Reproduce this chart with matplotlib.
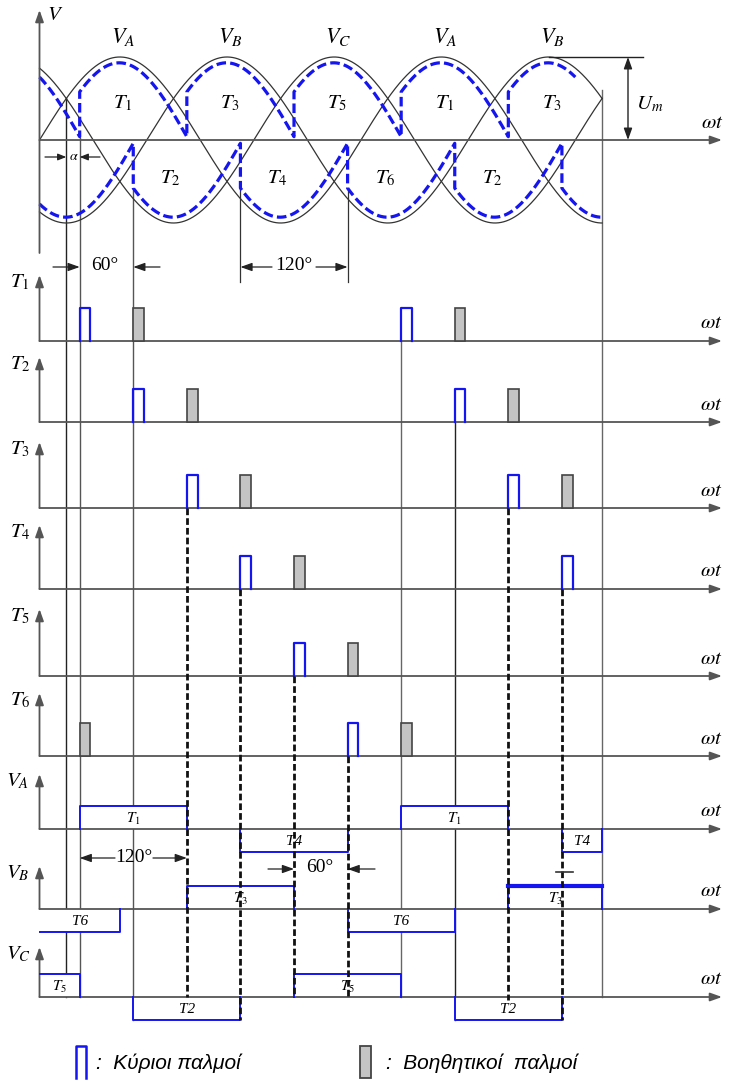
import numpy as np
import matplotlib
matplotlib.use('Agg')
import matplotlib.pyplot as plt
from matplotlib.patches import Rectangle

plt.rcParams['mathtext.fontset'] = 'stix'
plt.rcParams['font.family'] = ['Liberation Serif', 'DejaVu Serif']

# ---------------- data ----------------
phase_shift = [0, 120, 240]          # V_A, V_B, V_C phase shift (deg)
theta_end = 630                      # end of drawn waveforms (deg)
upper_dash_end = 600
peak_labels = ['$V_A$', '$V_B$', '$V_C$', '$V_A$', '$V_B$']
peak_angles = [90, 210, 330, 450, 570]
upper_labels = ['$T_1$', '$T_3$', '$T_5$', '$T_1$', '$T_3$']
upper_angles = [90, 210, 330, 450, 570]
lower_labels = ['$T_2$', '$T_4$', '$T_6$', '$T_2$']
lower_angles = [150, 270, 390, 510]
upper_lobe_start = [-75, 45, 165, 285, 405, 525]
lower_lobe_start = [-15, 105, 225, 345, 465, 585]
dash_amp = 0.93
dash_start_val = 0.58
dash_end_val = 0.04

row_names = ['$T_1$', '$T_2$', '$T_3$', '$T_4$', '$T_5$', '$T_6$', '$V_A$', '$V_B$', '$V_C$']
main_pulses = [[45, 405], [105, 465], [165, 525], [225, 585], [285], [345]]
aux_pulses = [[105, 465], [165, 525], [225, 585], [285], [345], [45, 405]]
pulse_width = 12

va_start = [45, 225, 405, 585]
va_end = [165, 345, 525, 630]
va_sign = [1, -1, 1, -1]
va_label = ['$T_1$', 'T4', '$T_1$', 'T4']
vb_start = [0, 165, 345, 525]
vb_end = [90, 285, 465, 630]
vb_sign = [-1, 1, -1, 1]
vb_label = ['T6', '$T_3$', 'T6', '$T_3$']
vc_start = [0, 105, 285, 465]
vc_end = [45, 225, 405, 585]
vc_sign = [1, -1, 1, -1]
vc_label = ['$T_5$', 'T2', '$T_5$', 'T2']

# ---------------- layout (pixels) ----------------
X0, KX = 39.5, 0.893
def th(px):
    return (px - X0) / KX

top_y = 140
amp = 83
row_axis_y = [341, 422, 508, 589, 676, 756, 829, 909, 997]
row_top_y = [275, 357, 442, 525, 609, 693, 774, 866, 947]
pulse_h = 33
box_h = 23
AX_COL = '#555555'
BLUE = '#1515f0'

fig = plt.figure(figsize=(7.29, 10.81), dpi=100)
ax = fig.add_axes([0, 0, 1, 1])
ax.set_xlim(th(0), th(729))
ax.set_ylim(1081, 0)
ax.axis('off')

def arrow(x0, y0, x1, y1, color=AX_COL, lw=1.3, hl=0.7, hw=0.25, z=4):
    ax.annotate('', xy=(x1, y1), xytext=(x0, y0),
                arrowprops=dict(arrowstyle='-|>,head_length=%s,head_width=%s' % (hl, hw),
                                color=color, lw=lw, shrinkA=0, shrinkB=0), zorder=z)

# ---------------- top waveform section ----------------
t = np.linspace(0, theta_end, 1500)
for ph in phase_shift:
    v = np.sin(np.radians(t - ph))
    ax.plot(t, top_y - amp * v, color='#333333', lw=0.9, zorder=3)

a_phi = np.degrees(np.arcsin(dash_start_val / dash_amp))
b_phi = 180 - np.degrees(np.arcsin(dash_end_val / dash_amp))

def dashed_env(starts, sign, tmax):
    xs, ys = [], []
    for s in starts:
        tt = np.linspace(max(s, 0), min(s + 120, tmax), 200)
        if len(tt) == 0 or tt[0] >= tt[-1]:
            continue
        phi = a_phi + (tt - s) / 120 * (b_phi - a_phi)
        v = dash_amp * np.sin(np.radians(phi))
        xs.append(tt); ys.append(top_y - sign * amp * v)
    return np.concatenate(xs), np.concatenate(ys)

for starts, sg, tmax in [(upper_lobe_start, 1, upper_dash_end), (lower_lobe_start, -1, theta_end)]:
    xs, ys = dashed_env(starts, sg, tmax)
    ax.plot(xs, ys, color=BLUE, lw=2.3, dashes=[3.0, 1.3], zorder=4)

# axes
arrow(0, 253, 0, 10, lw=1.3)
arrow(0, top_y, th(722), top_y, lw=1.3)
ax.text(th(55), 16, '$V$', fontsize=15, ha='center', va='center')
ax.text(th(712), 124, r'$\omega t$', fontsize=15, ha='center', va='center')
for lab, a in zip(peak_labels, peak_angles):
    ax.text(a + th(43) - th(39.5), 37, lab, fontsize=16, ha='center', va='center')
for lab, a in zip(upper_labels, upper_angles):
    ax.text(a + 3 / KX, 103, lab, fontsize=15, ha='center', va='center')
for lab, a in zip(lower_labels, lower_angles):
    ax.text(a - 3 / KX, 178, lab, fontsize=15, ha='center', va='center')

# Um dimension
ax.plot([570, th(643)], [top_y - amp, top_y - amp], color='#222222', lw=1.0, zorder=3)
ax.annotate('', xy=(th(628), top_y - amp), xytext=(th(628), top_y),
            arrowprops=dict(arrowstyle='<|-|>,head_length=0.7,head_width=0.25', color='#222222',
                            lw=1.0, shrinkA=0, shrinkB=0))
ax.text(th(650), 104, '$U_m$', fontsize=15, ha='center', va='center')

# alpha
arrow(th(45), 157, 30, 157, color='#222222', lw=0.9, hl=0.5, hw=0.2)
arrow(th(100), 157, 45, 157, color='#222222', lw=0.9, hl=0.5, hw=0.2)
ax.text(th(73.5), 156, r'$\alpha$', fontsize=10, ha='center', va='center')

# 60 deg (top)
arrow(th(53), 267, 45, 267, color='#222222', lw=0.9)
arrow(th(160), 267, 105, 267, color='#222222', lw=0.9)
ax.text(th(105), 265, '60°', fontsize=14, ha='center', va='center')
# 120 deg (top)
ax.plot([225, 225], [190, 282], color='#333333', lw=0.9, zorder=2)
ax.plot([345, 345], [190, 282], color='#333333', lw=0.9, zorder=2)
arrow(th(272), 267, 225, 267, color='#222222', lw=0.9)
arrow(th(316), 267, 345, 267, color='#222222', lw=0.9)
ax.text(th(294), 266, '120°', fontsize=14, ha='center', va='center')

# ---------------- vertical guide lines ----------------
solid_guides = [(30, 98, 997, '#222222'), (45, 138, 997, '#555555'), (105, 188, 1020, '#555555'),
                (405, 341, 997, '#666666'), (465, 422, 1020, '#222222'), (630, 90, 997, '#666666')]
for a, y0, y1, c in solid_guides:
    ax.plot([a, a], [y0, y1], color=c, lw=1.0, zorder=1)
dashed_guides = [(165, 508, 997), (225, 589, 1020), (285, 676, 997), (345, 756, 997),
                 (525, 508, 1000), (585, 589, 1020)]
for a, y0, y1 in dashed_guides:
    ax.plot([a, a], [y0, y1], color='#111111', lw=2.0, dashes=[2.4, 1.1], zorder=6)

# ---------------- pulse rows ----------------
for i, name in enumerate(row_names):
    ya, yt = row_axis_y[i], row_top_y[i]
    arrow(0, ya, 0, yt, lw=1.3, z=3)
    arrow(0, ya, th(722), ya, lw=1.3, z=3)
    ax.text(th(20 if i < 6 else 18), yt + 7, name, fontsize=15, ha='center', va='center')
    ax.text(th(711), ya - 17, r'$\omega t$', fontsize=15, ha='center', va='center')

for i in range(6):
    ya = row_axis_y[i]
    for a in main_pulses[i]:
        ax.plot([a, a, a + pulse_width, a + pulse_width], [ya, ya - pulse_h, ya - pulse_h, ya],
                color=BLUE, lw=1.6, zorder=5)
    for a in aux_pulses[i]:
        ax.add_patch(Rectangle((a, ya - pulse_h), pulse_width, pulse_h, facecolor='#c4c4c4',
                               edgecolor='#444444', lw=1.2, zorder=5))

# ---------------- output voltage rows ----------------
def out_row(ya, starts, ends, signs, labels, thick=None):
    for k, (s, e, sg, lab) in enumerate(zip(starts, ends, signs, labels)):
        yl = ya - sg * box_h
        ax.add_patch(Rectangle((s, min(ya, yl)), e - s, box_h, facecolor='white',
                               edgecolor='none', zorder=2))
        xs, ys = [s, s, e, e], [ya, yl, yl, ya]
        if s == 0:
            xs, ys = xs[1:], ys[1:]
        ax.plot(xs, ys, color=BLUE, lw=1.4, zorder=4)
        if thick is not None and k == thick:
            ax.plot([s, e], [yl, yl], color=BLUE, lw=3.0, zorder=4)
        ax.text((s + e) / 2, ya - sg * box_h / 2 + 1, lab, fontsize=11, fontstyle='italic',
                ha='center', va='center', zorder=7)

out_row(row_axis_y[6], va_start, va_end, va_sign, va_label)
out_row(row_axis_y[7], vb_start, vb_end, vb_sign, vb_label, thick=3)
out_row(row_axis_y[8], vc_start, vc_end, vc_sign, vc_label)
ax.plot([th(556), th(573)], [872, 872], color='#333333', lw=1.2, zorder=6)

# 120 deg / 60 deg dimensions (bottom)
arrow(th(115), 858, 45, 858, color='#222222', lw=0.9)
arrow(th(153), 858, 165, 858, color='#222222', lw=0.9)
ax.text(th(134), 857, '120°', fontsize=14, ha='center', va='center', zorder=7)
arrow(th(268), 869, 285, 869, color='#222222', lw=0.9)
arrow(th(375), 869, 345, 869, color='#222222', lw=0.9)
ax.text(th(320), 868, '60°', fontsize=14, ha='center', va='center', zorder=7)

# ---------------- legend ----------------
ax.plot([th(76), th(76), th(86), th(86)], [1078, 1046, 1046, 1078], color=BLUE, lw=1.8)
ax.add_patch(Rectangle((th(360), 1046), th(371) - th(360), 32, facecolor='#c4c4c4',
                       edgecolor='#444444', lw=1.3))
ax.text(th(96), 1063, ':  Κύριοι παλμοί', fontsize=15, fontstyle='italic',
        family=['Liberation Sans', 'DejaVu Sans'], ha='left', va='center')
ax.text(th(386), 1063, ':  Βοηθητικοί  παλμοί', fontsize=15, fontstyle='italic',
        family=['Liberation Sans', 'DejaVu Sans'], ha='left', va='center')

fig.savefig('out.png', dpi=100)
